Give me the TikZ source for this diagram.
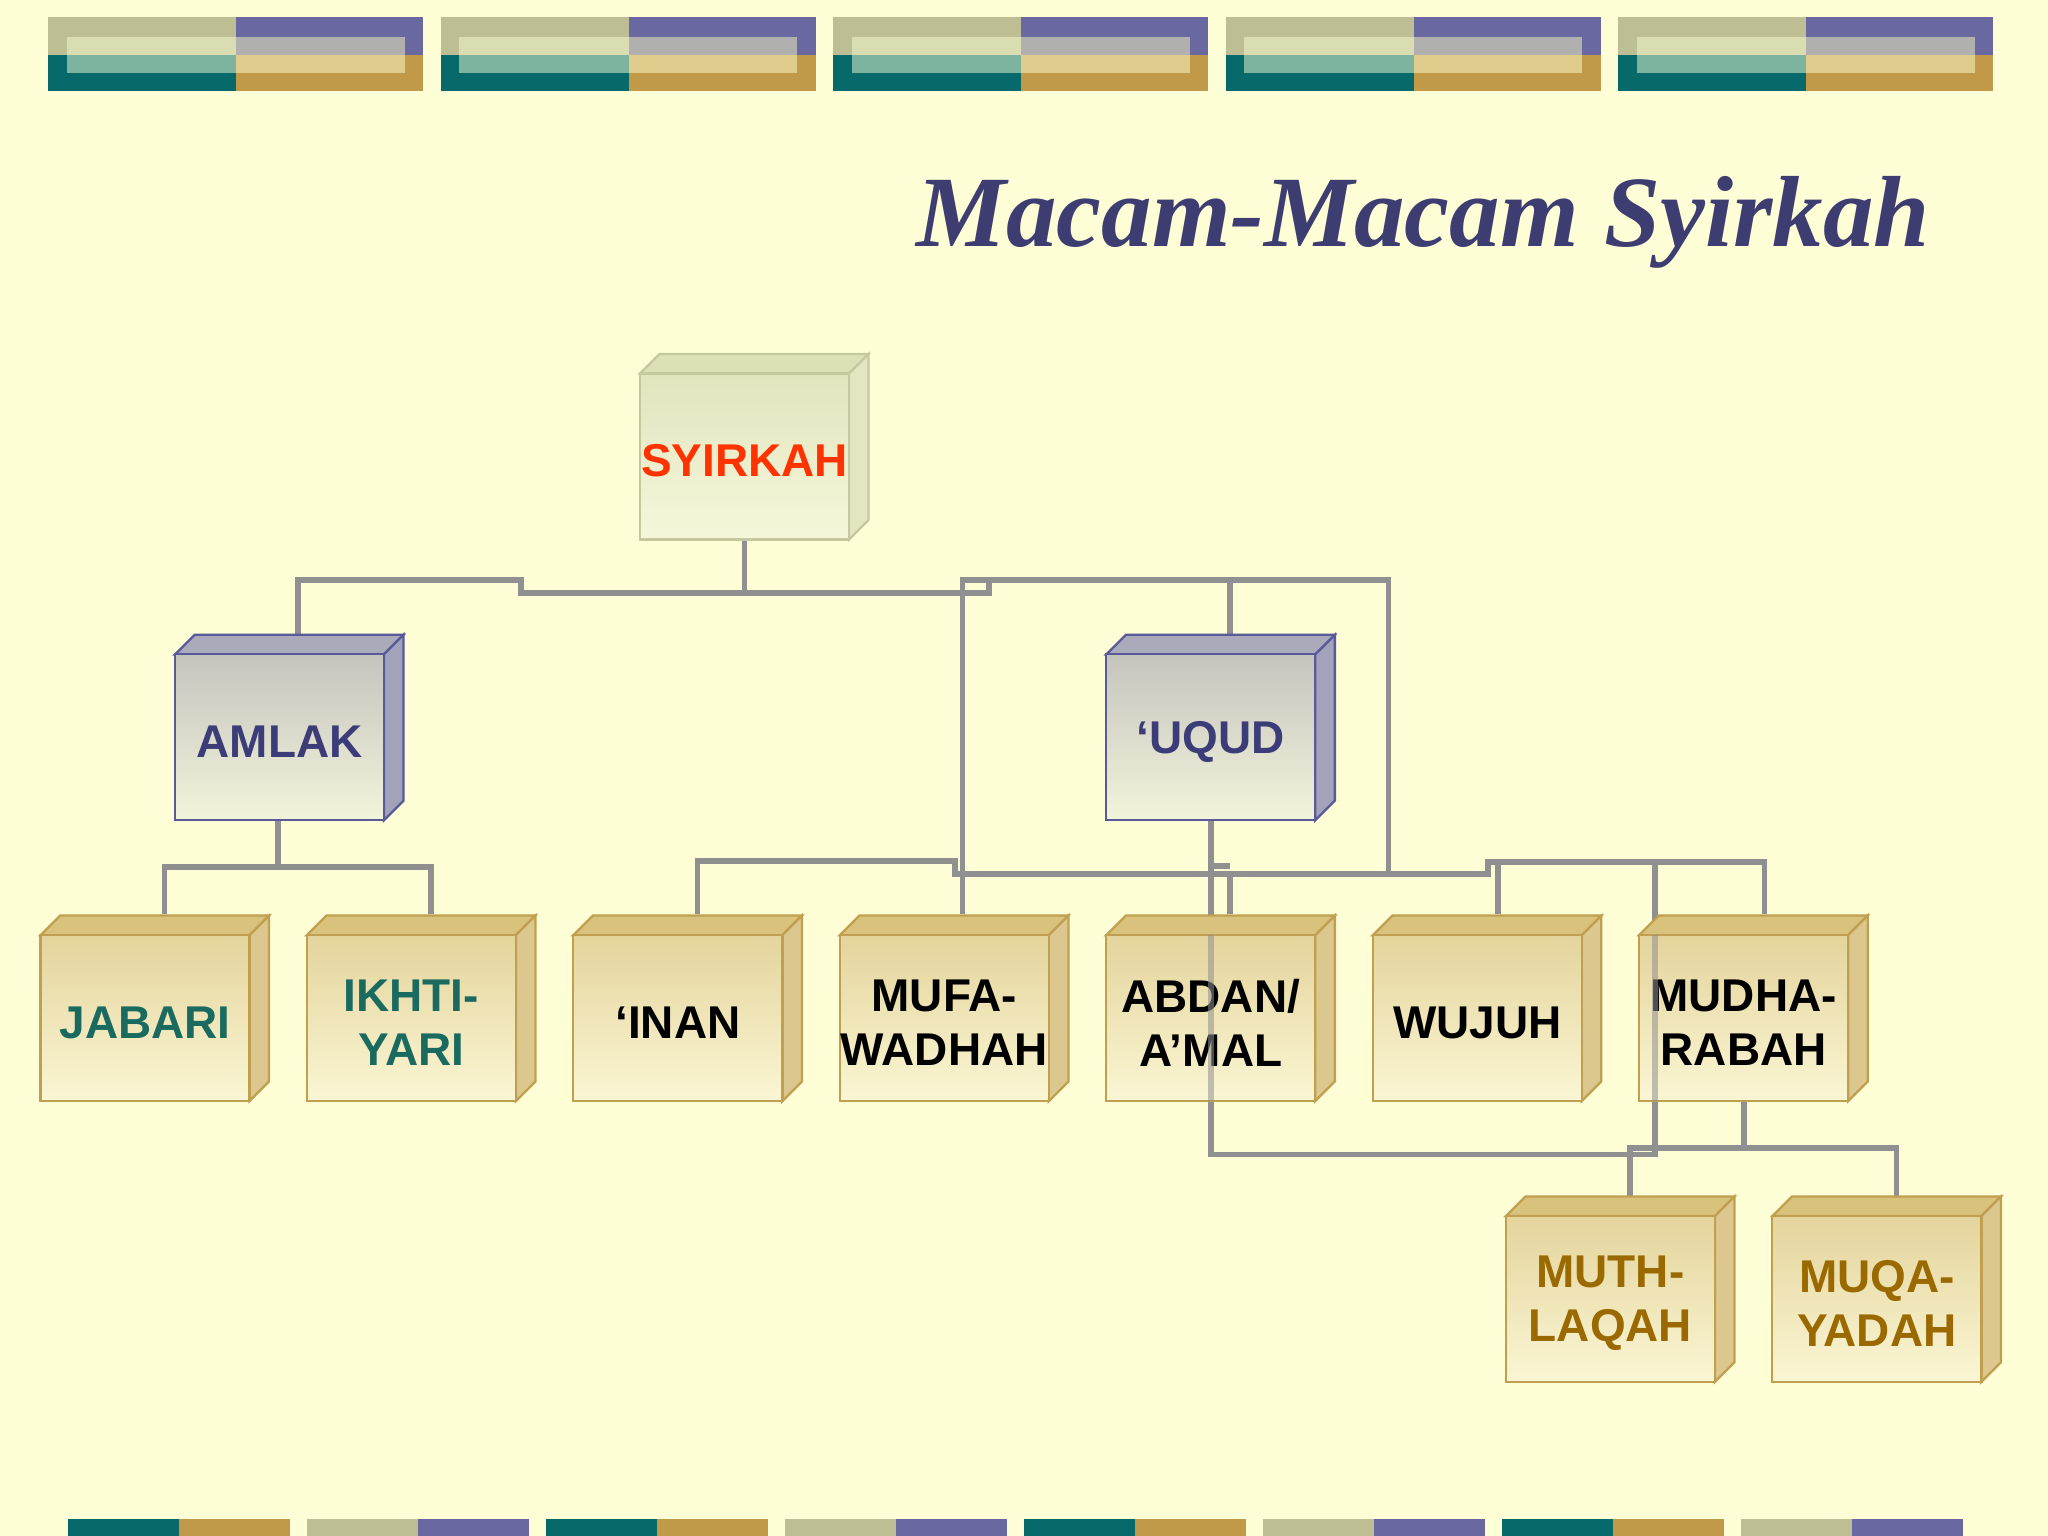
\documentclass[tikz,border=0pt]{standalone}
\usepackage{fontspec}
\setmainfont{Liberation Sans}
\newfontfamily\titlefont{Liberation Serif}
\definecolor{bg}{HTML}{FDFDD6}
\definecolor{hA}{HTML}{BDBE94}\definecolor{hB}{HTML}{6A68A0}
\definecolor{hC}{HTML}{07696A}\definecolor{hD}{HTML}{C09A48}
\definecolor{iA}{HTML}{DADDB2}\definecolor{iB}{HTML}{B0B1AE}
\definecolor{iC}{HTML}{7DB4A0}\definecolor{iD}{HTML}{E0CC8C}
\definecolor{ln}{HTML}{909090}
\definecolor{gB}{HTML}{C0A050}\definecolor{gT}{HTML}{E4D49C}\definecolor{gF}{HTML}{FAF6D4}
\definecolor{gTop}{HTML}{D8C27C}\definecolor{gSide}{HTML}{DCC88E}
\definecolor{pB}{HTML}{5A5A9A}\definecolor{pT}{HTML}{C4C4BE}\definecolor{pF}{HTML}{F2F4DA}
\definecolor{pTop}{HTML}{AAAABA}\definecolor{pSide}{HTML}{A2A2BA}
\definecolor{sB}{HTML}{C8C8A0}\definecolor{sT}{HTML}{E2E4BE}\definecolor{sF}{HTML}{F6F7DA}
\definecolor{sTop}{HTML}{DDDFB6}\definecolor{sSide}{HTML}{E4E6C2}
\definecolor{tRed}{HTML}{FF3300}\definecolor{tBlue}{HTML}{3C3C78}
\definecolor{tTeal}{HTML}{1A6A60}\definecolor{tGold}{HTML}{9A6A00}
\definecolor{titlec}{HTML}{3D3D72}
% #1 name, #2 x, #3 y, #4 prefix (g/p/s), #5 text colour, #6 text
\newcommand\mycube[6]{%
  \fill[#4Top,draw=#4B,line width=0.5pt] (#2,#3) -- ++(15,-15) -- ++(160,0) -- ++(-15,15) -- cycle;
  \fill[#4Side,draw=#4B,line width=0.5pt] (#2+160,#3) -- ++(15,-15) -- ++(0,127) -- ++(-15,15) -- cycle;
  \node[boxfront,top color=#4T,bottom color=#4F,draw=#4B,text=#5] (#1) at (#2+80,#3+63.5) {};
  \node[boxtext,text=#5] (#1-t) at (#2+80,#3+67) {#6};
}
\tikzset{
  boxfront/.style={minimum width=1.6cm,minimum height=1.27cm,inner sep=0pt,line width=0.5pt},
  boxtext/.style={inner sep=0pt,font=\fontsize{10}{11.7}\selectfont\bfseries,align=center},
  conn/.style={draw=ln,line width=1.25pt},
}
\begin{document}
\begin{tikzpicture}[x=0.01cm,y=-0.01cm]
\fill[bg] (0,0) rectangle (1568,1176);
\useasboundingbox (0,0) rectangle (1568,1176);
% header
\foreach \i in {0,...,4}{
  \begin{scope}[xshift=\i*300.5*0.01cm]
    \fill[hA] (37,13) rectangle (181,42);
    \fill[hB] (181,13) rectangle (324,42);
    \fill[hC] (37,42) rectangle (181,70);
    \fill[hD] (181,42) rectangle (324,70);
    \fill[iA] (51,28) rectangle (181,42);
    \fill[iC] (51,42) rectangle (181,56);
    \fill[iB] (181,28) rectangle (310,42);
    \fill[iD] (181,42) rectangle (310,56);
  \end{scope}}
% footer
\foreach \i in {0,...,3}{
  \begin{scope}[xshift=\i*366*0.01cm]
    \fill[hC] (52,1163) rectangle (137,1176);
    \fill[hD] (137,1163) rectangle (222,1176);
    \fill[hA] (235,1163) rectangle (320,1176);
    \fill[hB] (320,1163) rectangle (405,1176);
  \end{scope}}
% title
\node[anchor=east,text=titlec,font=\titlefont\fontsize{22}{22}\selectfont\bfseries\itshape] (title) at (1490,170) {Macam-Macam Syirkah};
% connectors
\draw[conn] (570,413) -- (570,454);
\draw[conn] (228,486) -- (228,444) -- (399,444) -- (399,454) -- (757,454) -- (757,444);
\draw[conn] (737,700) -- (737,444) -- (1063,444) -- (1063,669);
\draw[conn] (942,444) -- (942,486);
\draw[conn] (213,628) -- (213,664);
\draw[conn] (126,700) -- (126,664) -- (330,664) -- (330,700);
\draw[conn] (534,700) -- (534,659) -- (731,659) -- (731,669) -- (1139,669) -- (1139,660) -- (1351,660) -- (1351,700);
\draw[conn] (942,669) -- (942,700);
\draw[conn] (929,663) -- (942,663);
\draw[conn] (1147,660) -- (1147,700);
\draw[conn] (927,628) -- (927,884) -- (1267,884) -- (1267,660);
\draw[conn] (1335,843) -- (1335,879);
\draw[conn] (1248,916) -- (1248,879) -- (1452,879) -- (1452,916);
% boxes
\mycube{syirkah}{490}{286}{s}{tRed}{SYIRKAH}
\mycube{amlak}{134}{501}{p}{tBlue}{AMLAK}
\mycube{uqud}{847}{501}{p}{tBlue}{‘UQUD}
\mycube{jabari}{31}{716}{g}{tTeal}{JABARI}
\mycube{ikhti}{235}{716}{g}{tTeal}{IKHTI-\\YARI}
\mycube{inan}{439}{716}{g}{black}{‘INAN}
\mycube{mufa}{643}{716}{g}{black}{MUFA-\\WADHAH}
\mycube{abdan}{847}{716}{g}{black}{ABDAN/\\A’MAL}
\mycube{wujuh}{1051}{716}{g}{black}{WUJUH}
\mycube{mudha}{1255}{716}{g}{black}{MUDHA-\\RABAH}
\mycube{muth}{1153}{931}{g}{tGold}{MUTH-\\LAQAH}
\mycube{muqa}{1357}{931}{g}{tGold}{MUQA-\\YADAH}
% lines showing through the boxes
\draw[conn,opacity=0.55] (927,716) -- (927,843);
\draw[conn,opacity=0.55] (1267,716) -- (1267,843);
\end{tikzpicture}
\end{document}
